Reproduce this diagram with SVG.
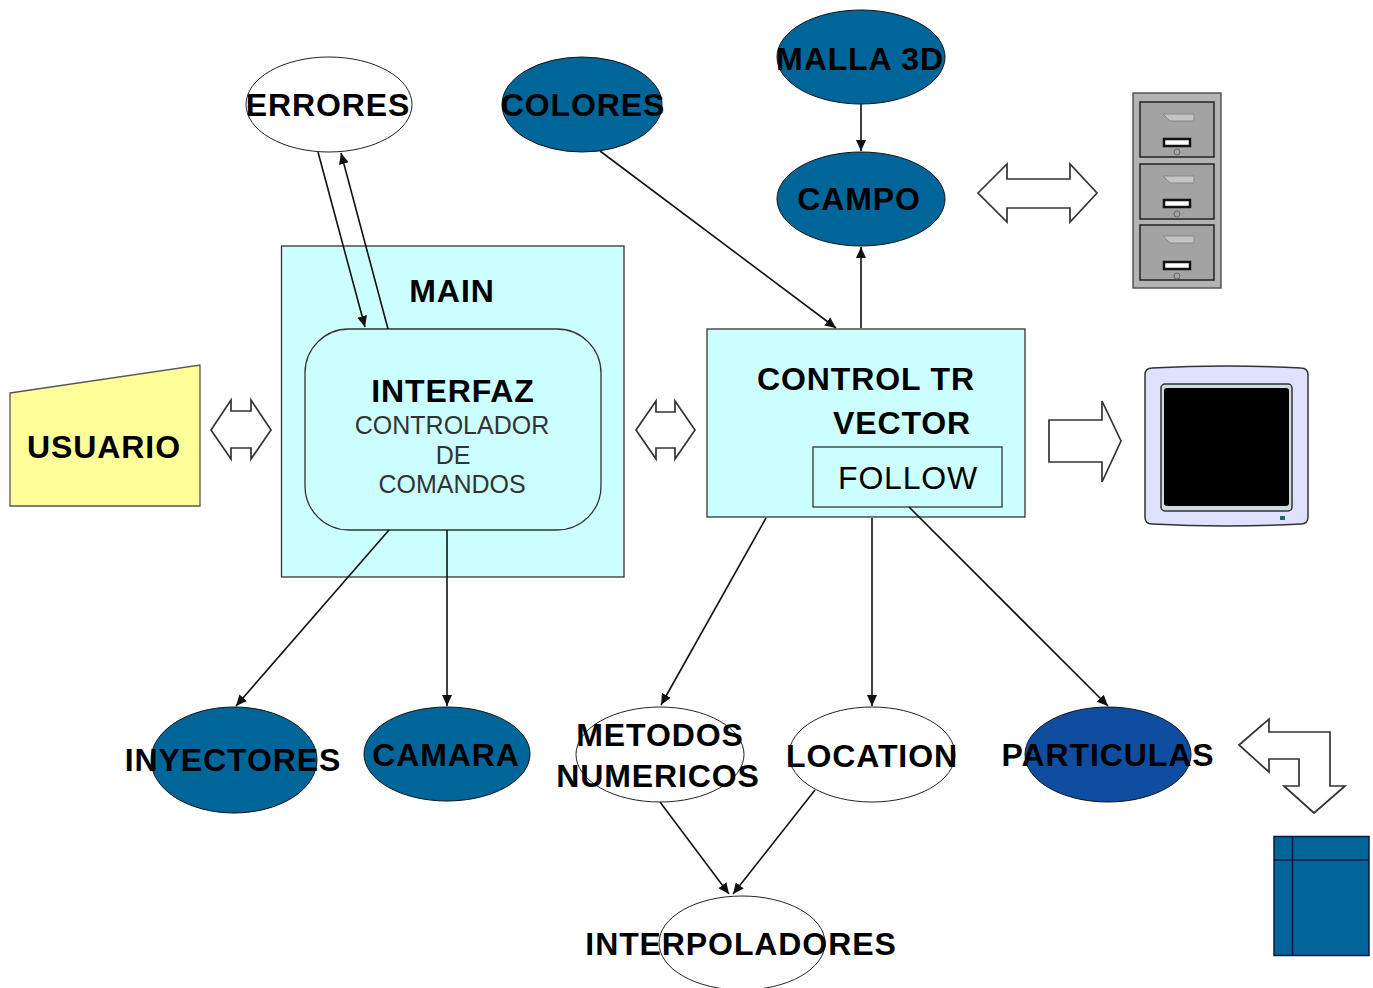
<svg xmlns="http://www.w3.org/2000/svg" width="1373" height="988" viewBox="0 0 1373 988">
<style>
text{font-family:"Liberation Sans",Arial,sans-serif;fill:#000;text-anchor:middle}
.b{font-weight:bold;font-size:32px;letter-spacing:.9px}
.r{font-size:25px;fill:#333}
.dk{fill:#006699;stroke:#111;stroke-width:1}
.wh{fill:#fff;stroke:#222;stroke-width:1}
.cy{fill:#ccffff;stroke:#333;stroke-width:1.3}
.c{stroke:#111;stroke-width:1.600;fill:none;marker-end:url(#a)}
.o{fill:#fff;stroke:#333;stroke-width:1.700}
</style>
<defs><marker id="a" markerUnits="userSpaceOnUse" markerWidth="12" markerHeight="12" refX="11" refY="6" orient="auto"><path d="M0 1L11 6L0 11z" fill="#111"/></marker></defs>
<rect width="1373" height="988" fill="#fff"/>
<g id="main"><rect class="cy" x="281.500" y="246" width="342.500" height="331"/><text class="b" x="452" y="302">MAIN</text></g>
<g id="errores"><ellipse class="wh" cx="329" cy="104.500" rx="83" ry="47.500"/><text class="b" x="328" y="116">ERRORES</text></g>
<g id="colores"><ellipse class="dk" cx="582" cy="104.500" rx="80" ry="47.500"/><text class="b" x="583" y="116">COLORES</text></g>
<g id="malla"><ellipse class="dk" cx="861" cy="57" rx="84" ry="47"/><text class="b" x="860" y="70">MALLA 3D</text></g>
<g id="campo"><ellipse class="dk" cx="861" cy="199" rx="84" ry="47"/><text class="b" x="859" y="210">CAMPO</text></g>
<g id="usuario"><path d="M10 393L200 365V506H10z" fill="#ffff99" stroke="#555" stroke-width="1.300"/><text class="b" x="104" y="458">USUARIO</text></g>
<g id="interfaz"><rect class="cy" x="305" y="329" width="296" height="201" rx="44"/><text class="b" x="453" y="402">INTERFAZ</text><text class="r" x="452" y="434">CONTROLADOR</text><text class="r" x="453" y="464">DE</text><text class="r" x="452" y="493">COMANDOS</text></g>
<g id="control"><rect class="cy" x="707" y="329" width="318" height="188"/><text class="b" x="866" y="390">CONTROL TR</text><text class="b" x="902" y="434">VECTOR</text></g>
<g id="follow"><rect class="cy" x="813" y="447" width="189" height="60"/><text x="908" y="489" font-size="32" letter-spacing=".8" fill="#222">FOLLOW</text></g>
<g id="inyectores"><ellipse class="dk" cx="234" cy="760" rx="83" ry="53"/><text class="b" x="233" y="771">INYECTORES</text></g>
<g id="camara"><ellipse class="dk" cx="447" cy="754" rx="83" ry="47"/><text class="b" x="446" y="766">CAMARA</text></g>
<g id="metodos"><ellipse class="wh" cx="660" cy="754.500" rx="84" ry="47.500"/><text class="b" x="660" y="746">METODOS</text><text class="b" x="658" y="787">NUMERICOS</text></g>
<g id="location"><ellipse class="wh" cx="872" cy="754.500" rx="83" ry="47.500"/><text class="b" x="872" y="767">LOCATION</text></g>
<g id="particulas"><ellipse fill="#0f4da0" stroke="#111" cx="1108" cy="754.500" rx="83" ry="47.500"/><text class="b" x="1108" y="766">PARTICULAS</text></g>
<g id="interpoladores"><ellipse class="wh" cx="742" cy="943" rx="83" ry="47"/><text class="b" x="741" y="955">INTERPOLADORES</text></g>
<g id="connectors">
<path class="c" d="M318 152L365 327"/><path class="c" d="M388 329L341 153"/>
<path class="c" d="M600 151L836 328"/><path class="c" d="M861 104V151"/><path class="c" d="M861 328V247"/>
<path class="c" d="M389 530L236 706"/><path class="c" d="M447 530V706"/>
<path class="c" d="M766 518L661 705"/><path class="c" d="M872 518V706"/><path class="c" d="M909 507L1108 706"/>
<path class="c" d="M660 802L729 894"/><path class="c" d="M815 790L733 894"/>
</g>
<g id="arrows">
<path class="o" d="M211 430L231 400V411H251V400L271 430L251 459V448H231V459z"/>
<path class="o" d="M636 430L656 401V412H675V401L695 430L675 459V448H656V459z"/>
<path class="o" d="M978 193L1007 164V179H1070V164L1097 193L1070 222V208H1007V222z"/>
<path class="o" d="M1049 420H1102V401L1121 441L1102 482V462H1049z"/>
<path class="o" stroke-width="2" d="M1239 745L1269 719V732H1330V786H1345L1314 813L1284 786H1299V759H1269V772z"/>
</g>
<g id="cabinet">
<rect x="1133" y="93" width="88" height="195" fill="#b3b3b3" stroke="#555" stroke-width="1.500"/>
<g fill="#a3a3a3" stroke="#222" stroke-width="1.500"><rect x="1140" y="102" width="74" height="55"/><rect x="1140" y="164" width="74" height="55"/><rect x="1140" y="225" width="74" height="55"/></g>
<g fill="#c4c4c4" stroke="#888"><path d="M1163 114H1194V121H1170z"/><path d="M1163 176H1194V183H1170z"/><path d="M1163 236H1194V243H1170z"/></g>
<g fill="#fff" stroke="#111" stroke-width="2.500"><rect x="1164" y="139" width="26" height="7"/><rect x="1164" y="200" width="26" height="7"/><rect x="1164" y="262" width="26" height="7"/></g>
<g fill="none" stroke="#666"><circle cx="1177" cy="152" r="3"/><circle cx="1177" cy="214" r="3"/><circle cx="1177" cy="276" r="3"/></g>
</g>
<g id="monitor">
<path d="M1145 375Q1145 368 1152 368Q1226 364 1301 368Q1308 368 1308 375V517Q1308 524 1301 524Q1226 528 1152 524Q1145 524 1145 517z" fill="#e0e0ff" stroke="#333" stroke-width="1.500"/>
<rect x="1161" y="384" width="131" height="127" rx="4" fill="#cdd" stroke="#333" stroke-width="1.500"/>
<rect x="1164" y="388" width="125" height="118" rx="3" fill="#000"/>
<rect x="1280" y="516" width="5" height="4" fill="#266"/>
</g>
<g id="table" stroke="#0a1a40" stroke-width="1.500"><rect x="1274" y="836.500" width="95" height="119" fill="#006699"/><path d="M1292.500 837V955M1274 860H1369" fill="none"/></g>
</svg>
